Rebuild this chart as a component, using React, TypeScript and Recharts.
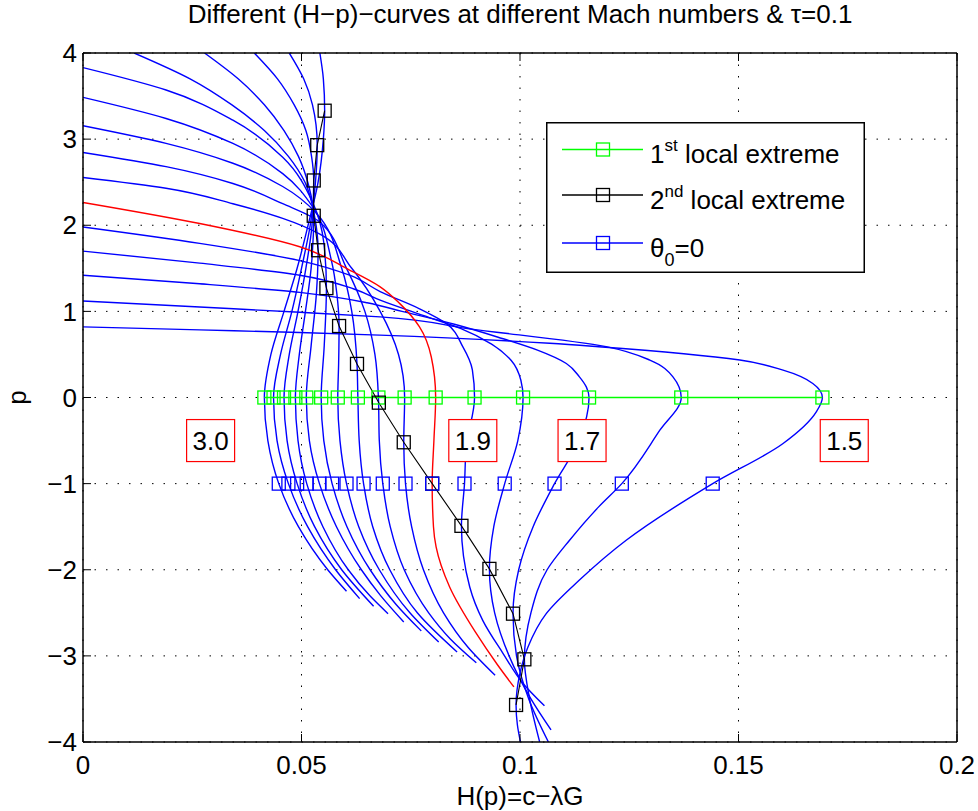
import React from 'react';
import {
  ComposedChart,
  Line,
  XAxis,
  YAxis,
  CartesianGrid,
  Legend,
  ReferenceDot,
} from 'recharts';

const machNumbers = ['3.0', '2.9', '2.8', '2.7', '2.6', '2.5', '2.4', '2.3', '2.2', '2.1', '2.0', '1.9', '1.8', '1.7', '1.6', '1.5'];
const highlightedMach = '2.0';

// [p, H(p)] pairs for each Mach number, listed from the top of the plot down
const mach30 = [[4, 0.0542], [3.7, 0.055], [3.33, 0.0553], [3.0, 0.055], [2.5, 0.0538], [2.0, 0.0515], [1.5, 0.049], [1.0, 0.046], [0.5, 0.043], [0, 0.0415], [-0.5, 0.0423], [-1, 0.0448], [-1.5, 0.0493], [-2, 0.056], [-2.25, 0.0603]];
const mach29 = [[4, 0.0472], [3.7, 0.0505], [3.4, 0.0525], [2.93, 0.0536], [2.5, 0.0532], [2.0, 0.052], [1.5, 0.05], [1.0, 0.0478], [0.5, 0.0452], [0, 0.0436], [-0.5, 0.0444], [-1, 0.047], [-1.5, 0.0514], [-2, 0.0578], [-2.335, 0.0633]];
const mach28 = [[4, 0.0392], [3.7, 0.0445], [3.4, 0.0483], [3.1, 0.051], [2.8, 0.0523], [2.52, 0.0528], [2.0, 0.0524], [1.5, 0.051], [1.0, 0.0492], [0.5, 0.0472], [0, 0.046], [-0.5, 0.0467], [-1, 0.049], [-1.5, 0.053], [-2, 0.0592], [-2.424, 0.0665]];
const mach27 = [[4, 0.0278], [3.7, 0.0355], [3.4, 0.0415], [3.1, 0.046], [2.8, 0.0493], [2.45, 0.0517], [2.11, 0.0528], [1.5, 0.0522], [1.0, 0.0509], [0.5, 0.0495], [0, 0.0486], [-0.5, 0.0492], [-1, 0.0512], [-1.5, 0.0549], [-2, 0.0607], [-2.3, 0.0656], [-2.51, 0.0698]];
const mach26 = [[4, 0.0117], [3.7, 0.0245], [3.4, 0.034], [3.1, 0.0415], [2.8, 0.047], [2.5, 0.0508], [2.1, 0.053], [1.71, 0.0538], [1.2, 0.0534], [0.6, 0.0522], [0, 0.0511], [-0.5, 0.0518], [-1, 0.0541], [-1.5, 0.058], [-2, 0.0637], [-2.3, 0.0681], [-2.606, 0.0734]];
const mach25 = [[3.83, 0], [3.57, 0.019], [3.22, 0.0343], [2.79, 0.0457], [2.26, 0.0526], [1.8, 0.0551], [1.27, 0.0557], [0.6, 0.0552], [0, 0.0545], [-0.5, 0.0551], [-1, 0.057], [-1.5, 0.0604], [-2, 0.0657], [-2.4, 0.0716], [-2.71, 0.0774]];
const mach24 = [[3.485, 0], [3.24, 0.019], [2.95, 0.0343], [2.6, 0.0457], [2.21, 0.0526], [1.6, 0.0568], [1.2, 0.0581], [0.83, 0.0586], [0.4, 0.0585], [0, 0.0583], [-0.5, 0.0588], [-1, 0.0603], [-1.5, 0.0631], [-2, 0.0678], [-2.5, 0.0748], [-2.84, 0.0814]];
const mach23 = [[3.155, 0], [2.95, 0.019], [2.72, 0.0343], [2.45, 0.0457], [2.14, 0.0534], [1.5, 0.0592], [1.0, 0.0615], [0.39, 0.0627], [0, 0.0629], [-0.5, 0.0632], [-1, 0.0642], [-1.5, 0.0663], [-2, 0.0702], [-2.5, 0.0765], [-2.955, 0.0856]];
const mach22 = [[2.845, 0], [2.68, 0.019], [2.485, 0.0343], [2.25, 0.0457], [2.04, 0.0541], [1.5, 0.0603], [1.0, 0.0645], [0.5, 0.0668], [0, 0.0676], [-0.5, 0.0678], [-1, 0.0686], [-1.5, 0.0703], [-2, 0.0735], [-2.5, 0.0791], [-2.8, 0.084], [-3.08, 0.09]];
const mach21 = [[2.555, 0], [2.43, 0.019], [2.25, 0.0343], [2.08, 0.0457], [1.9, 0.0541], [1.5, 0.0615], [1.0, 0.068], [0.5, 0.0722], [0, 0.0736], [-0.52, 0.0734], [-1, 0.0738], [-1.5, 0.0752], [-2, 0.0779], [-2.5, 0.0825], [-2.9, 0.0881], [-3.225, 0.0943]];
const mach20 = [[2.265, 0], [2.02, 0.0267], [1.75, 0.0496], [1.48, 0.061], [1.285, 0.068], [1.09, 0.0725], [0.82, 0.077], [0.47, 0.0797], [0, 0.0807], [-0.5, 0.0803], [-1, 0.0799], [-1.5, 0.0802], [-1.735, 0.0808], [-2.2, 0.0839], [-2.74, 0.09], [-3.1, 0.0948], [-3.36, 0.0986]];
const mach19 = [[1.98, 0], [1.79, 0.0267], [1.59, 0.0496], [1.42, 0.061], [1.23, 0.068], [1.03, 0.077], [0.86, 0.0831], [0.59, 0.0869], [0.32, 0.0891], [0, 0.0896], [-0.57, 0.0877], [-1, 0.0873], [-1.49, 0.0866], [-2.2, 0.0885], [-2.59, 0.0915], [-2.97, 0.0961], [-3.32, 0.1007], [-3.58, 0.1056]];
const mach18 = [[1.7, 0], [1.56, 0.0267], [1.42, 0.0496], [1.26, 0.062], [1.13, 0.068], [0.95, 0.078], [0.8, 0.0865], [0.62, 0.0935], [0.43, 0.098], [0.2, 0.1002], [0, 0.1007], [-0.5, 0.0995], [-1, 0.0965], [-1.5, 0.094], [-1.99, 0.093], [-2.5, 0.0942], [-3.0, 0.0975], [-3.5, 0.1025], [-3.86, 0.1071]];
const mach17 = [[1.42, 0], [1.32, 0.0267], [1.22, 0.0496], [1.1, 0.065], [1.0, 0.073], [0.85, 0.085], [0.7, 0.095], [0.55, 0.104], [0.395, 0.1106], [0.24, 0.1136], [0.12, 0.1152], [0, 0.1158], [-0.5, 0.1135], [-1, 0.1079], [-1.5, 0.103], [-2, 0.0997], [-2.51, 0.0984], [-3, 0.0992], [-3.5, 0.102], [-4, 0.1065]];
const mach16 = [[1.12, 0], [1.05, 0.0267], [0.99, 0.0496], [0.936, 0.068], [0.8, 0.088], [0.59, 0.1197], [0.435, 0.1297], [0.24, 0.135], [0, 0.1369], [-0.38, 0.132], [-1, 0.1233], [-1.27, 0.118], [-1.66, 0.1113], [-2, 0.1062], [-2.5, 0.1025], [-3.04, 0.101], [-3.5, 0.1022], [-4, 0.1045]];
const mach15 = [[0.82, 0], [0.785, 0.0267], [0.755, 0.0496], [0.724, 0.0679], [0.63, 0.1068], [0.59, 0.118], [0.435, 0.1503], [0.317, 0.1602], [0.163, 0.167], [0, 0.1692], [-0.167, 0.1678], [-0.534, 0.1602], [-1, 0.1441], [-1.658, 0.1243], [-2.12, 0.1136], [-2.51, 0.106], [-2.9, 0.1018], [-3.2, 0.1], [-3.57, 0.0991], [-3.8, 0.0994], [-4, 0.1001]];

const curvePoints = [mach30, mach29, mach28, mach27, mach26, mach25, mach24, mach23, mach22, mach21, mach20, mach19, mach18, mach17, mach16, mach15];

// 1st local extreme of each curve, all at p = 0
const firstExtremeH = [0.0415, 0.0436, 0.046, 0.0486, 0.0511, 0.0545, 0.0583, 0.0629, 0.0676, 0.0736, 0.0807, 0.0896, 0.1007, 0.1158, 0.1369, 0.1692];
// 2nd local extreme of each curve
const secondExtremeP = [3.33, 2.93, 2.52, 2.11, 1.71, 1.27, 0.83, 0.39, -0.06, -0.52, -1.0, -1.49, -1.99, -2.51, -3.04, -3.57];
const secondExtremeH = [0.0553, 0.0536, 0.0528, 0.0528, 0.0538, 0.0557, 0.0586, 0.0627, 0.0677, 0.0734, 0.0799, 0.0866, 0.093, 0.0984, 0.101, 0.0991];
// theta_0 = 0 points, all at p = -1
const thetaZeroH = [0.0448, 0.047, 0.049, 0.0512, 0.0541, 0.057, 0.0603, 0.0642, 0.0686, 0.0738, 0.0799, 0.0873, 0.0965, 0.1079, 0.1233, 0.1441];

const boxedMach = ['3.0', '1.9', '1.7', '1.5'];
const boxedMachH = [0.0292, 0.0892, 0.1142, 0.1742];
const boxedMachP = -0.5;

const xTicks = [0, 0.05, 0.1, 0.15, 0.2];
const yTicks = [-4, -3, -2, -1, 0, 1, 2, 3, 4];

const BLUE = '#0000ff';
const RED = '#ff0000';
const GREEN = '#00ff00';
const FONT = '"Liberation Sans", Arial, Helvetica, sans-serif';

const curveSeries = curvePoints.map((pts, i) => ({
  mach: machNumbers[i],
  data: pts.map(([p, h]) => ({ p, h })),
}));
const firstExtremeData = firstExtremeH.map((h) => ({ p: 0, h }));
const secondExtremeData = secondExtremeP.map((p, i) => ({ p, h: secondExtremeH[i] }));
const thetaZeroData = thetaZeroH.map((h) => ({ p: -1, h }));

const squareDot = (color: string) => (props: any) => {
  const { cx, cy, index } = props;
  if (cx == null || cy == null) return <g key={index} />;
  return (
    <rect key={index} x={cx - 6.5} y={cy - 6.5} width={13} height={13} fill="none" stroke={color} strokeWidth={1.3} />
  );
};

const fmtX = (v: number) => String(v);
const fmtY = (v: number) => (v < 0 ? '\u2212' + Math.abs(v) : String(v));

function MachBox(props: any) {
  const { cx, cy, text } = props;
  return (
    <g>
      <rect x={cx - 24} y={cy - 21} width={48} height={42} fill="#fff" stroke={RED} strokeWidth={1.2} />
      <text x={cx} y={cy + 9.5} textAnchor="middle" fontSize={26} fill="#000" fontFamily={FONT}>
        {text}
      </text>
    </g>
  );
}

const legendRows = [
  { color: GREEN, base: '1', sup: 'st', rest: ' local extreme' },
  { color: '#000', base: '2', sup: 'nd', rest: ' local extreme' },
  { color: BLUE, base: '\u03b8', sub: '0', rest: '=0' },
];

function LegendBox() {
  const rowY = [27.5, 73, 121];
  return (
    <svg width={319} height={151} style={{ display: 'block' }}>
      <rect x={0.75} y={0.75} width={317.5} height={149.5} fill="#fff" stroke="#000" strokeWidth={1.5} />
      {legendRows.map((r, i) => (
        <g key={i}>
          <line x1={16} x2={97} y1={rowY[i]} y2={rowY[i]} stroke={r.color} strokeWidth={1.6} />
          <rect x={50.5} y={rowY[i] - 6.5} width={13} height={13} fill="none" stroke={r.color} strokeWidth={1.3} />
          <text x={104} y={rowY[i] + 13.5} fontSize={26} fill="#000" fontFamily={FONT}>
            {r.base}
            {r.sup ? (
              <tspan dy={-12} fontSize={17}>{r.sup}</tspan>
            ) : (
              <tspan dy={9} fontSize={18}>{r.sub}</tspan>
            )}
            <tspan dy={r.sup ? 12 : -9} fontSize={26}>{r.rest}</tspan>
          </text>
        </g>
      ))}
    </svg>
  );
}

export default function App() {
  const blueCurves = curveSeries.filter((s) => s.mach !== highlightedMach);
  const redCurves = curveSeries.filter((s) => s.mach === highlightedMach);
  const tickStyle = { fontSize: 26, fill: '#000', fontFamily: FONT };

  return (
    <div style={{ position: 'absolute', left: 0, top: 0, width: 978, height: 811, background: '#fff', fontFamily: FONT }}>
      <div
        style={{
          position: 'absolute',
          left: 83,
          top: 1,
          width: 874,
          textAlign: 'center',
          fontSize: 26,
          lineHeight: '26px',
          color: '#000',
          whiteSpace: 'nowrap',
        }}
      >
        Different (H{'\u2212'}p){'\u2212'}curves at different Mach numbers &amp; {'\u03c4'}=0.1
      </div>
      <ComposedChart
        width={978}
        height={811}
        layout="vertical"
        margin={{ top: 52, right: 20, bottom: 0, left: 0 }}
      >
        <CartesianGrid stroke="#000" strokeWidth={1} strokeDasharray="1.5 10" />
        <XAxis
          type="number"
          dataKey="h"
          domain={[0, 0.2]}
          ticks={xTicks}
          interval={0}
          allowDataOverflow
          height={69}
          tickFormatter={fmtX}
          tick={tickStyle}
          tickSize={-8}
          tickMargin={22}
          tickLine={{ stroke: '#000' }}
          axisLine={{ stroke: '#000', strokeWidth: 1.5 }}
          label={{ value: 'H(p)=c\u2212\u03bbG', position: 'insideBottom', offset: 6, style: { fontSize: 26, fill: '#000', fontFamily: FONT } }}
        />
        <XAxis
          xAxisId="top"
          orientation="top"
          type="number"
          domain={[0, 0.2]}
          ticks={xTicks}
          interval={0}
          allowDataOverflow
          height={1}
          tickFormatter={() => ''}
          tickSize={-8}
          tickLine={{ stroke: '#000' }}
          axisLine={{ stroke: '#000', strokeWidth: 1.5 }}
        />
        <YAxis
          type="number"
          dataKey="p"
          domain={[-4, 4]}
          ticks={yTicks}
          interval={0}
          reversed
          allowDataOverflow
          width={83}
          tickFormatter={fmtY}
          tick={tickStyle}
          tickSize={-8}
          tickMargin={14}
          tickLine={{ stroke: '#000' }}
          axisLine={{ stroke: '#000', strokeWidth: 1.5 }}
          label={{ value: 'p', angle: -90, position: 'insideLeft', offset: 17, style: { fontSize: 26, fill: '#000', fontFamily: FONT, textAnchor: 'middle' } }}
        />
        <YAxis
          yAxisId="right"
          orientation="right"
          type="number"
          domain={[-4, 4]}
          ticks={yTicks}
          interval={0}
          reversed
          allowDataOverflow
          width={1}
          tickFormatter={() => ''}
          tickSize={-8}
          tickLine={{ stroke: '#000' }}
          axisLine={{ stroke: '#000', strokeWidth: 1.5 }}
        />

        {blueCurves.map((s) => (
          <Line
            key={s.mach}
            data={s.data}
            dataKey="h"
            type="monotone"
            stroke={BLUE}
            strokeWidth={1.4}
            dot={false}
            activeDot={false}
            isAnimationActive={false}
            legendType="none"
          />
        ))}
        {redCurves.map((s) => (
          <Line
            key={s.mach}
            data={s.data}
            dataKey="h"
            type="monotone"
            stroke={RED}
            strokeWidth={1.4}
            dot={false}
            activeDot={false}
            isAnimationActive={false}
            legendType="none"
          />
        ))}

        <Line
          data={firstExtremeData}
          dataKey="h"
          type="linear"
          stroke={GREEN}
          strokeWidth={1.6}
          dot={squareDot(GREEN)}
          activeDot={false}
          isAnimationActive={false}
          legendType="none"
        />
        <Line
          data={secondExtremeData}
          dataKey="h"
          type="linear"
          stroke="#000"
          strokeWidth={1.1}
          dot={squareDot('#000')}
          activeDot={false}
          isAnimationActive={false}
          legendType="none"
        />
        <Line
          data={thetaZeroData}
          dataKey="h"
          type="linear"
          stroke="none"
          dot={squareDot(BLUE)}
          activeDot={false}
          isAnimationActive={false}
          legendType="none"
        />

        {boxedMach.map((m, i) => (
          <ReferenceDot
            key={m}
            x={boxedMachH[i]}
            y={boxedMachP}
            r={0}
            shape={(props: any) => <MachBox {...props} text={m} />}
          />
        ))}

        <Legend
          layout="vertical"
          align="center"
          verticalAlign="middle"
          content={() => <LegendBox />}
          wrapperStyle={{ left: 546, top: 122, width: 319, height: 151 }}
        />
      </ComposedChart>
    </div>
  );
}
